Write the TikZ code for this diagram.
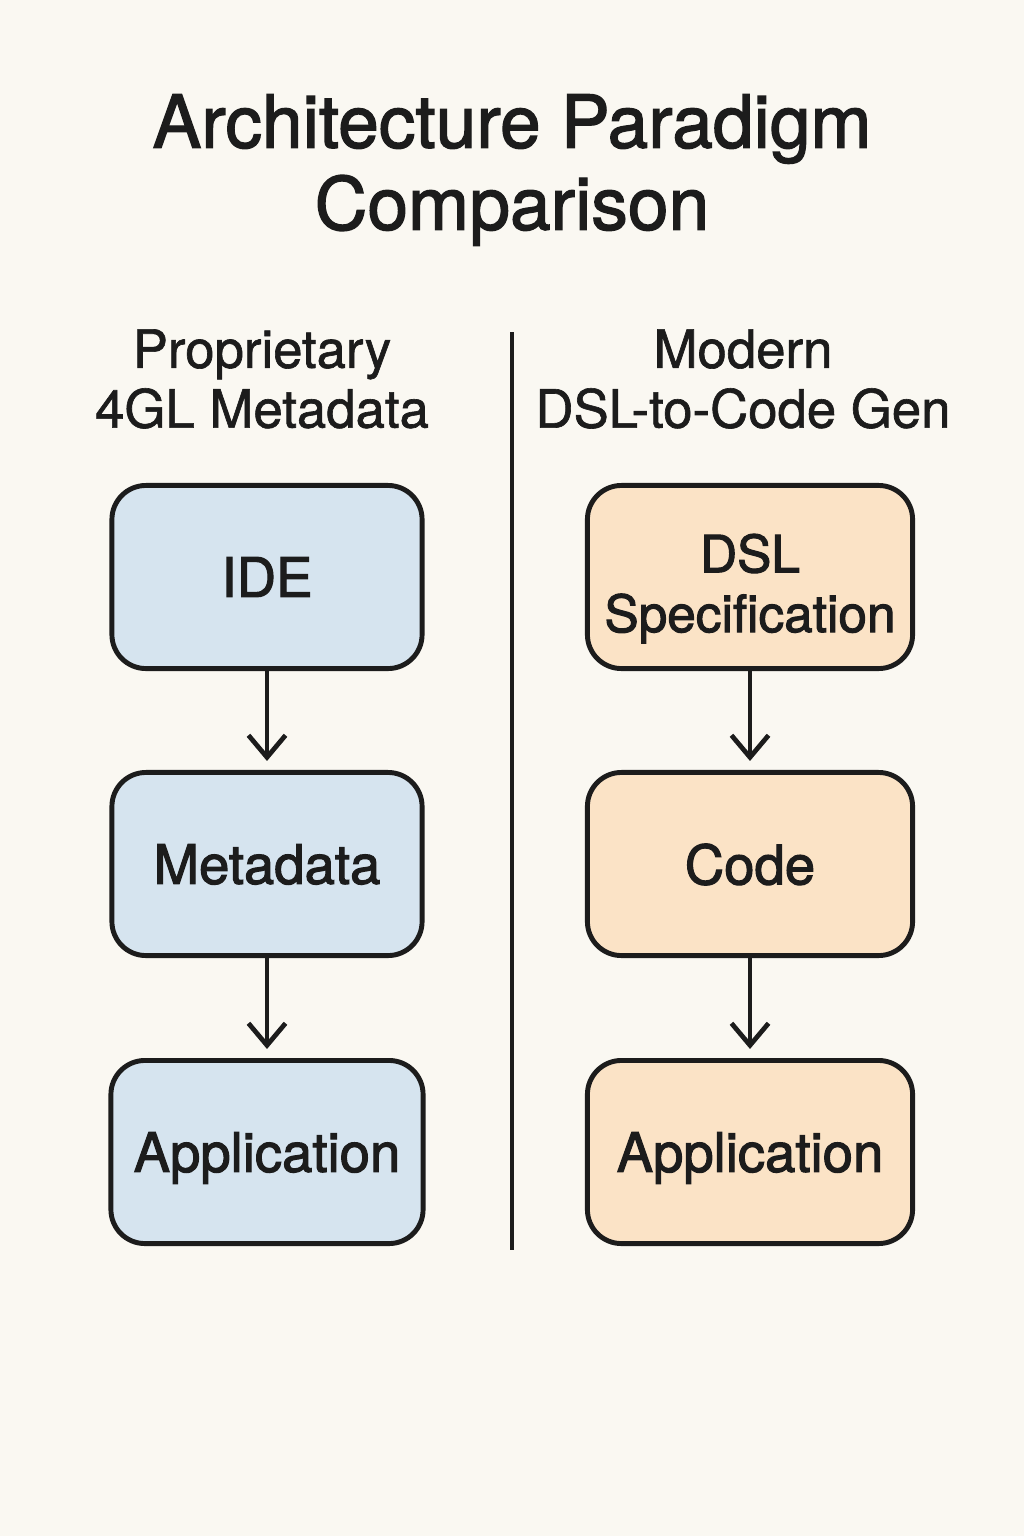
\documentclass[tikz,border=0pt]{standalone}
\usepackage{fontspec}
\setmainfont{TeX Gyre Heros}
\newfontfamily\medfont{TeX Gyre Heros}[FakeBold=1.2]
\newfontfamily\headfont{TeX Gyre Heros}[FakeBold=1.8]
\newfontfamily\semifont{TeX Gyre Heros}[FakeBold=2]
\usepackage{tikz}
\usetikzlibrary{shapes,arrows,arrows.meta,positioning}

\definecolor{paper}{HTML}{FAF8F2}
\definecolor{ink}{HTML}{1C1C1C}
\definecolor{oldblue}{HTML}{D6E4EF}
\definecolor{newpeach}{HTML}{FBE3C6}

\begin{document}
\begin{tikzpicture}[x=0.01cm, y=-0.01cm]
			\tikzstyle{Title}	= [font=\headfont\fontsize{20.8}{23.3}\selectfont, align=center, text=ink]
			\tikzstyle{Head}	= [font=\medfont\fontsize{15}{17}\selectfont, align=center, text=ink]
			\tikzstyle{Box}		= [rectangle, rounded corners=3.4mm, draw=ink, line width=1.4pt, minimum height=1.83cm, align=center, text=ink, text depth=0pt, font=\semifont\fontsize{15.5}{17}\selectfont]
			\tikzstyle{OLD}		= [fill=oldblue, minimum width=3.1cm]
			\tikzstyle{NEW}		= [fill=newpeach, minimum width=3.25cm]
			\tikzstyle{Flow}	= [ink, line width=1.35pt, -{Straight Barb[length=2.2mm, width=3.7mm]}, shorten >=0.9mm]
			\tikzstyle{Split}	= [ink, line width=0.9pt]

			\fill [paper] (0,0) rectangle (1024,1536);
			\useasboundingbox (0,0) rectangle (1024,1536);

			\node (title) at (512,170) [Title] {Architecture Paradigm\\Comparison};
			\node (lhead) at (262,379) [Head] {Proprietary\\4GL Metadata};
			\node (rhead) at (743,379) [Head] {Modern\\DSL-to-Code Gen};

			\coordinate (divtop) at (512,332);
			\coordinate (divbot) at (512,1250);

			\node (ide)  at (267,577)  [Box][OLD] {IDE};
			\node (meta) at (267,864)  [Box][OLD] {Metadata};
			\node (lapp) at (267,1152) [Box][OLD][minimum width=3.12cm] {Application};

			\node (dsl)  at (750,577)  [Box][NEW][font=\semifont\fontsize{14.6}{17}\selectfont, text height=31.3pt, inner xsep=0.5mm] {DSL\\Specification};
			\node (code) at (750,864)  [Box][NEW] {Code};
			\node (rapp) at (750,1152) [Box][NEW] {Application};

			\draw [-] (divtop) to (divbot) [Split];
			\draw (ide) to (meta) [Flow];
			\draw (meta) to (lapp) [Flow];
			\draw (dsl) to (code) [Flow];
			\draw (code) to (rapp) [Flow];
		\end{tikzpicture}
\end{document}
